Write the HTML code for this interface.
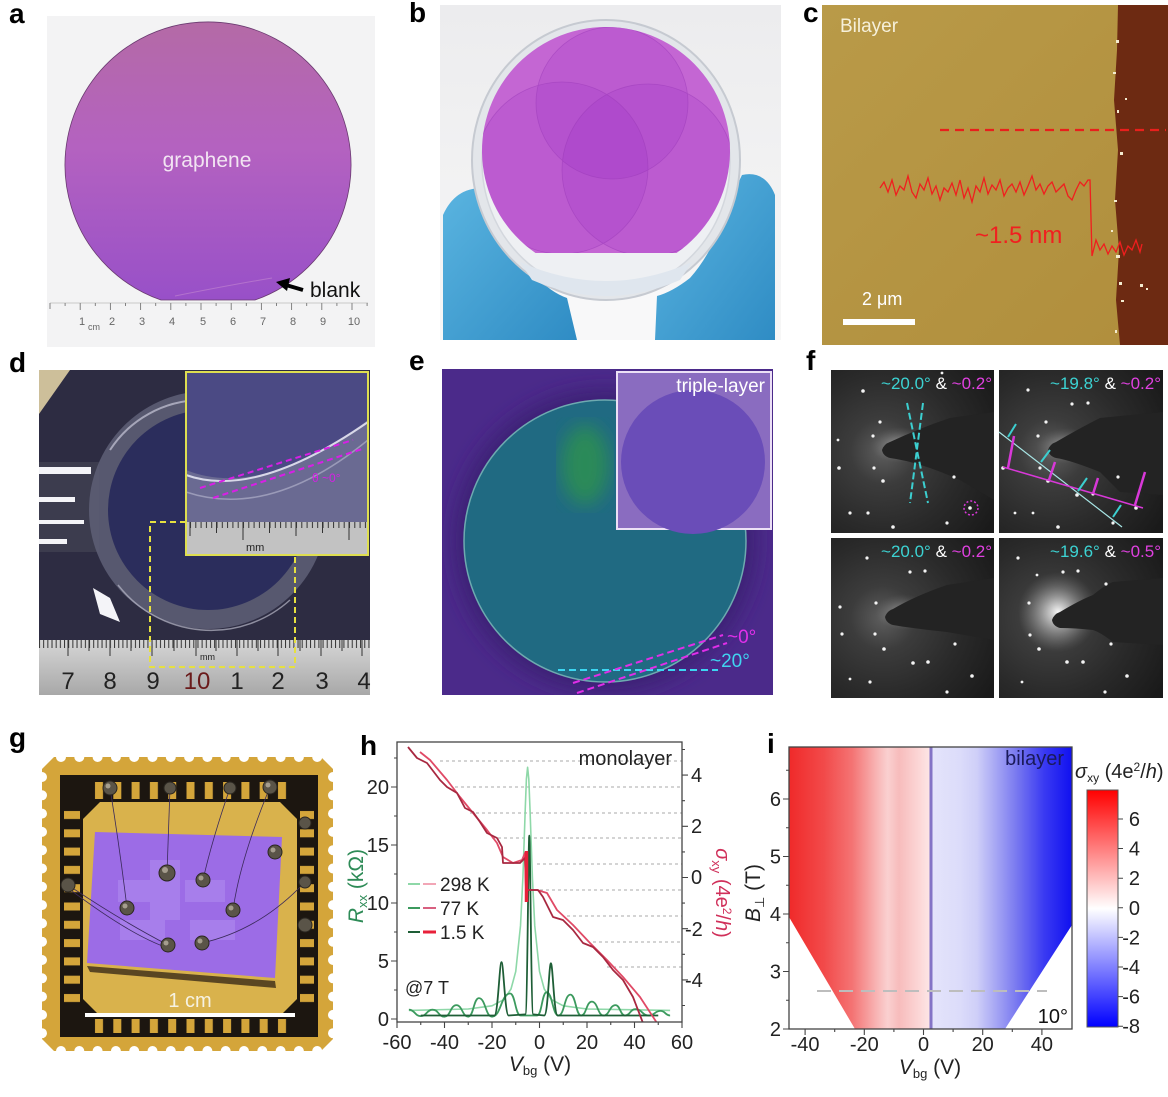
<!DOCTYPE html>
<html><head><meta charset="utf-8">
<style>
html,body{margin:0;padding:0;background:#fff;}
svg{display:block;font-family:"Liberation Sans",Arial,sans-serif;}
</style></head><body>
<svg width="1168" height="1097" viewBox="0 0 1168 1097" xmlns="http://www.w3.org/2000/svg">
<defs>
<linearGradient id="gA" x1="0" y1="0" x2="0" y2="1"><stop offset="0" stop-color="#b46aa6"/><stop offset="0.45" stop-color="#b462c0"/><stop offset="1" stop-color="#9850c8"/></linearGradient>
<linearGradient id="gBbg" x1="0" y1="0" x2="0" y2="1"><stop offset="0" stop-color="#ececee"/><stop offset="1" stop-color="#f7f7f7"/></linearGradient>
<linearGradient id="gGlove" x1="0" y1="0" x2="1" y2="1"><stop offset="0" stop-color="#5ab4e0"/><stop offset="1" stop-color="#2f8cc4"/></linearGradient>
<linearGradient id="gIL" x1="0" y1="0" x2="1" y2="0"><stop offset="0" stop-color="#f02a2a"/><stop offset="0.25" stop-color="#f24a4a"/><stop offset="0.45" stop-color="#f47474"/><stop offset="0.62" stop-color="#f8b4b4"/><stop offset="0.7" stop-color="#fad0d0"/><stop offset="0.78" stop-color="#f7bcbc"/><stop offset="0.9" stop-color="#fbd2d2"/><stop offset="1" stop-color="#fde6e6"/></linearGradient>
<linearGradient id="gIR" x1="0" y1="0" x2="1" y2="0"><stop offset="0" stop-color="#e4e4fb"/><stop offset="0.2" stop-color="#dcdcfa"/><stop offset="0.32" stop-color="#cfcff8"/><stop offset="0.45" stop-color="#a8a8f4"/><stop offset="0.6" stop-color="#7a7af0"/><stop offset="0.8" stop-color="#3a3af2"/><stop offset="1" stop-color="#1010f0"/></linearGradient>
<linearGradient id="gCB" x1="0" y1="0" x2="0" y2="1"><stop offset="0" stop-color="#ff0000"/><stop offset="0.5" stop-color="#ffffff"/><stop offset="1" stop-color="#0000ff"/></linearGradient>
<radialGradient id="gF" cx="0.32" cy="0.5" r="0.8"><stop offset="0" stop-color="#5e5e5e"/><stop offset="0.25" stop-color="#3c3c3c"/><stop offset="0.6" stop-color="#2a2a2a"/><stop offset="1" stop-color="#1a1a1a"/></radialGradient>
<radialGradient id="gGlow"><stop offset="0" stop-color="#ffffff" stop-opacity="0.95"/><stop offset="0.4" stop-color="#dddddd" stop-opacity="0.5"/><stop offset="1" stop-color="#888888" stop-opacity="0"/></radialGradient>
<linearGradient id="gRul" x1="0" y1="0" x2="0" y2="1"><stop offset="0" stop-color="#d6d6d6"/><stop offset="1" stop-color="#a8a8a8"/></linearGradient>
<linearGradient id="gC" x1="0" y1="0" x2="1" y2="1"><stop offset="0" stop-color="#b99a48"/><stop offset="1" stop-color="#b08e3c"/></linearGradient>
<pattern id="pRD" x="39" y="0" width="4.17" height="20" patternUnits="userSpaceOnUse"><rect x="0" y="0" width="1" height="8" fill="#333"/></pattern>
<pattern id="pRI" x="190" y="0" width="5.3" height="20" patternUnits="userSpaceOnUse"><rect x="0" y="0" width="1" height="8" fill="#333"/></pattern>
<pattern id="pSH" x="90" y="0" width="18.3" height="40" patternUnits="userSpaceOnUse"><rect x="5" y="0" width="8" height="40" fill="#d4a53a"/></pattern>
<pattern id="pSV" x="0" y="806" width="40" height="18.3" patternUnits="userSpaceOnUse"><rect x="0" y="5" width="40" height="8" fill="#d4a53a"/></pattern>
<clipPath id="cB"><path d="M535.5,253 A124 124 0 1 1 676.5,253 Z"/></clipPath>
<clipPath id="cH"><rect x="397" y="742" width="285" height="280"/></clipPath>
<clipPath id="cE"><rect x="442" y="369" width="331" height="326"/></clipPath>
<filter id="blur8"><feGaussianBlur stdDeviation="9"/></filter>
<filter id="blur3"><feGaussianBlur stdDeviation="3"/></filter>
</defs>

<!-- ===== Panel labels ===== -->
<g font-weight="bold" font-size="28" fill="#000">
<text x="9" y="23">a</text>
<text x="409" y="22">b</text>
<text x="803" y="22">c</text>
<text x="9" y="372">d</text>
<text x="409" y="370">e</text>
<text x="806" y="370">f</text>
<text x="9" y="747">g</text>
<text x="360" y="755">h</text>
<text x="767" y="753">i</text>
</g>

<!-- ===== Panel a ===== -->
<rect x="47" y="16" width="328" height="331" fill="#f3f3f4"/>
<path d="M161,300 A143 143 0 1 1 255,300 Z" fill="url(#gA)" stroke="#6a3a70" stroke-width="0.8"/>
<path d="M175,296 Q230,285 272,278" stroke="#c488d0" stroke-width="1" fill="none" opacity="0.6"/>
<text x="207" y="167" text-anchor="middle" font-size="21" fill="#f2e4f2">graphene</text>
<text x="310" y="297" font-size="21" fill="#111">blank</text>
<path d="M303,290 L286,285" stroke="#000" stroke-width="4"/>
<path d="M276,282 L290,278 L287,291 Z" fill="#000"/>
<path d="M50,303 H368" stroke="#bbb" stroke-width="0.8"/>
<path d="M50.0,303v6M65.1,303v3M80.2,303v7M95.3,303v3M110.4,303v7M125.5,303v3M140.6,303v7M155.7,303v3M170.8,303v7M185.9,303v3M201,303v7M216.1,303v3M231.2,303v7M246.3,303v3M261.4,303v7M276.5,303v3M291.6,303v7M306.7,303v3M321.8,303v7M336.9,303v3M352,303v7M367.1,303v3" stroke="#777" stroke-width="0.9"/>
<g font-size="11" fill="#666" text-anchor="middle">
<text x="82" y="325">1</text><text x="112" y="325">2</text><text x="142" y="325">3</text><text x="172" y="325">4</text><text x="203" y="325">5</text><text x="233" y="325">6</text><text x="263" y="325">7</text><text x="293" y="325">8</text><text x="323" y="325">9</text><text x="354" y="325">10</text>
<text x="94" y="330" font-size="9">cm</text>
</g>

<!-- ===== Panel b ===== -->
<rect x="440" y="5" width="341" height="335" fill="url(#gBbg)"/>
<rect x="560" y="290" width="110" height="50" fill="#f8f8f9"/>
<path d="M443,340 L443,215 Q455,188 482,188 L500,200 Q515,250 535,275 Q550,292 567,298 L577,340 Z" fill="url(#gGlove)"/>
<path d="M775,340 L775,195 Q765,170 742,175 L730,200 Q715,250 690,278 Q672,292 657,296 L655,340 Z" fill="url(#gGlove)"/>
<ellipse cx="606" cy="160" rx="134" ry="140" fill="#e3e6ea" stroke="#c6cad1" stroke-width="2"/>
<ellipse cx="606" cy="162" rx="124" ry="130" fill="#eef0f3" stroke="#d3d7dd" stroke-width="1.5"/>
<path d="M520,262 Q606,300 692,262 L680,280 Q606,312 532,280 Z" fill="#dfe6ee"/>
<path d="M535.5,253 A124 124 0 1 1 676.5,253 Z" fill="#c466d3"/>
<g clip-path="url(#cB)" fill="#8a18c0" fill-opacity="0.13">
<circle cx="612" cy="103" r="76"/>
<circle cx="562" cy="168" r="86"/>
<circle cx="648" cy="170" r="86"/>
</g>
<g clip-path="url(#cB)" fill="none" stroke="#9a3ab8" stroke-width="0.8" opacity="0.5">
<circle cx="612" cy="103" r="76"/>
<circle cx="562" cy="168" r="86"/>
<circle cx="648" cy="170" r="86"/>
</g>

<!-- ===== Panel c ===== -->
<rect x="822" y="5" width="346" height="340" fill="url(#gC)"/>
<path d="M1118,5 L1168,5 L1168,345 L1120,345 L1116,300 L1119,250 L1115,200 L1118,150 L1114,100 L1117,50 Z" fill="#6d2a12"/>
<g fill="#f4ecd0">
<rect x="1116" y="40" width="3" height="3"/><rect x="1113" y="72" width="3" height="2"/><rect x="1117" y="110" width="2" height="3"/><rect x="1120" y="152" width="3" height="3"/><rect x="1114" y="200" width="3" height="2"/><rect x="1116" y="255" width="4" height="3"/><rect x="1119" y="282" width="3" height="3"/><rect x="1121" y="300" width="3" height="2"/><rect x="1115" y="330" width="2" height="3"/><rect x="1140" y="284" width="3" height="3"/><rect x="1146" y="288" width="2" height="2"/><rect x="1111" y="230" width="2" height="2"/><rect x="1125" y="98" width="2" height="2"/>
</g>
<text x="840" y="32" font-size="19" fill="#f6f0da">Bilayer</text>
<path d="M940,130 H1166" stroke="#e8201c" stroke-width="2.2" stroke-dasharray="9 6"/>
<polyline fill="none" stroke="#f01e1e" stroke-width="1.3" points="880,188 884,182 888,192 892,180 896,195 900,186 904,190 908,176 912,192 916,198 920,184 924,190 928,178 932,194 936,186 940,200 944,188 948,192 952,183 956,195 960,180 964,198 968,188 972,202 976,186 980,192 984,178 988,194 992,185 996,190 1000,180 1004,196 1008,188 1012,184 1016,192 1020,182 1024,195 1028,186 1032,176 1036,190 1040,184 1044,194 1048,186 1052,182 1056,192 1060,188 1064,184 1068,196 1072,200 1076,190 1080,182 1084,186 1088,180 1090,180 1092,256 1096,240 1100,250 1104,244 1108,254 1112,246 1116,252 1120,242 1124,255 1128,246 1132,250 1136,240 1140,252 1142,244"/>
<text x="975" y="243" font-size="24" fill="#f02020">~1.5 nm</text>
<text x="862" y="305" font-size="18" fill="#fff">2 μm</text>
<rect x="843" y="319" width="72" height="6" fill="#fff"/>

<!-- ===== Panel d ===== -->
<rect x="39" y="370" width="331" height="325" fill="#2d2c42"/>
<polygon points="39,370 70,370 39,414" fill="#cdbf9a"/>
<rect x="39" y="462" width="60" height="90" fill="#3c3c4e"/>
<circle cx="208" cy="510" r="109" fill="none" stroke="#5c5d74" stroke-width="20" opacity="0.9"/>
<circle cx="208" cy="510" r="100" fill="#2b2d5c"/>
<path d="M110,450 A110 110 0 0 1 200,400" stroke="#c8c8d8" stroke-width="2" fill="none" opacity="0.7"/>
<path d="M118,585 A118 118 0 0 0 290,600" stroke="#b8b8c8" stroke-width="1.5" fill="none" opacity="0.7"/>
<g fill="#f4f4f8">
<rect x="39" y="467" width="52" height="7"/><rect x="39" y="497" width="36" height="5"/><rect x="39" y="520" width="45" height="4"/><rect x="39" y="539" width="28" height="5"/>
<polygon points="93,588 110,598 120,622 100,614"/>
</g>
<rect x="39" y="640" width="331" height="55" fill="url(#gRul)"/>
<rect x="39" y="640" width="331" height="9" fill="url(#pRD)"/>
<path d="M68,640v16M110,640v16M152,640v16M196,640v16M237,640v16M278,640v16M321,640v16M362,640v16M89,640v11M131,640v11M174,640v11M216,640v11M258,640v11M300,640v11M342,640v11" stroke="#333" stroke-width="1"/>
<g font-size="24" fill="#222" text-anchor="middle">
<text x="68" y="689">7</text><text x="110" y="689">8</text><text x="153" y="689">9</text><text x="197" y="689" fill="#6a1a1a">10</text><text x="237" y="689">1</text><text x="278" y="689">2</text><text x="322" y="689">3</text><text x="364" y="689">4</text>
</g>
<text x="200" y="660" font-size="9" fill="#222">mm</text>
<rect x="150" y="522" width="145" height="145" fill="none" stroke="#e6e040" stroke-width="2" stroke-dasharray="6 4"/>
<rect x="186" y="372" width="182" height="183" fill="#4b4a84"/>
<path d="M186,470 Q260,500 368,420 L368,522 L186,522 Z" fill="#6a6a92"/>
<path d="M186,475 Q255,500 368,422" stroke="#d8d8e8" stroke-width="2" fill="none"/>
<path d="M186,492 Q270,520 368,440" stroke="#9a9ab8" stroke-width="1.5" fill="none"/>
<path d="M200,488 L353,440 M213,498 L365,448" stroke="#d81ee6" stroke-width="2" stroke-dasharray="6 4"/>
<text x="312" y="482" font-size="12" fill="#d81ee6">θ ~0°</text>
<rect x="187" y="522" width="180" height="32" fill="#c2c2c2"/>
<rect x="187" y="522" width="180" height="9" fill="url(#pRI)"/>
<path d="M190,522v14M216.5,522v11M243,522v18M269.5,522v11M296,522v14M322.5,522v11M349,522v18" stroke="#333" stroke-width="1"/>
<text x="246" y="551" font-size="11" fill="#222">mm</text>
<rect x="186" y="372" width="182" height="183" fill="none" stroke="#dede50" stroke-width="2"/>

<!-- ===== Panel e ===== -->
<rect x="442" y="369" width="331" height="326" fill="#4b2a8a"/>
<g clip-path="url(#cE)">
<circle cx="605" cy="541" r="152" fill="#3c2276" filter="url(#blur8)"/>
<circle cx="605" cy="541" r="141" fill="#206a82" stroke="#6eaab0" stroke-width="1.5"/>
<ellipse cx="585" cy="465" rx="24" ry="40" fill="#2a8a58" filter="url(#blur8)"/>
</g>
<rect x="617" y="372" width="154" height="157" fill="#8a6cc0" stroke="#ece0f6" stroke-width="2"/>
<circle cx="693" cy="462" r="72" fill="#6a4db8"/>
<text x="765" y="392" font-size="19" fill="#fff" text-anchor="end">triple-layer</text>
<path d="M558,670 H718" stroke="#3cd6f2" stroke-width="2" stroke-dasharray="7 4"/>
<path d="M573,683 L723,635 M577,693 L727,643" stroke="#e02ee8" stroke-width="2" stroke-dasharray="7 4"/>
<text x="727" y="643" font-size="19" fill="#e030ea">~0°</text>
<text x="710" y="667" font-size="19" fill="#40d4f0">~20°</text>

<!-- ===== Panel f ===== -->
<rect x="831" y="370" width="163" height="163" fill="url(#gF)"/>
<rect x="999" y="370" width="164" height="163" fill="url(#gF)"/>
<rect x="831" y="538" width="163" height="160" fill="url(#gF)"/>
<rect x="999" y="538" width="164" height="160" fill="url(#gF)"/>
<circle cx="1058" cy="612" r="40" fill="url(#gGlow)"/>
<ellipse cx="900" cy="445" rx="30" ry="18" fill="url(#gGlow)" opacity="0.5"/>
<ellipse cx="1066" cy="446" rx="30" ry="18" fill="url(#gGlow)" opacity="0.5"/>
<ellipse cx="903" cy="612" rx="28" ry="18" fill="url(#gGlow)" opacity="0.45"/>
<g fill="#232323">
<path d="M882,450 Q884,444 890,442 Q920,428 950,418 L994,412 L994,500 L960,480 Q920,462 890,458 Q883,456 882,450 Z"/>
<path d="M1048,450 Q1050,444 1056,442 Q1080,428 1100,418 L1163,412 L1163,495 L1120,492 L1100,472 Q1070,460 1056,458 Q1049,456 1048,450 Z"/>
<path d="M885,617 Q887,611 893,609 Q915,596 947,585 L994,578 L994,640 L947,632 Q910,628 893,625 Q886,623 885,617 Z"/>
<path d="M1052,620 Q1054,614 1060,612 Q1080,600 1093,595 Q1105,585 1113,582 L1163,578 L1163,645 L1113,642 Q1100,632 1093,630 Q1075,628 1060,628 Q1053,626 1052,620 Z"/>
</g>
<g fill="#f4f4f4">
<circle cx="863" cy="391" r="1.8"/><circle cx="880" cy="422" r="1.6"/><circle cx="873" cy="436" r="1.6"/><circle cx="839" cy="468" r="1.8"/><circle cx="874" cy="468" r="1.6"/><circle cx="883" cy="481" r="1.8"/><circle cx="954" cy="477" r="1.6"/><circle cx="850" cy="513" r="1.6"/><circle cx="868" cy="513" r="1.6"/><circle cx="893" cy="527" r="1.8"/><circle cx="947" cy="523" r="1.6"/><circle cx="970" cy="508" r="1.8"/><circle cx="838" cy="440" r="1.4"/><circle cx="942" cy="373" r="1.4"/>
<circle cx="1028" cy="390" r="1.6"/><circle cx="1072" cy="404" r="1.6"/><circle cx="1088" cy="403" r="1.6"/><circle cx="1046" cy="422" r="1.6"/><circle cx="1038" cy="436" r="1.6"/><circle cx="1003" cy="468" r="1.8"/><circle cx="1040" cy="468" r="1.6"/><circle cx="1048" cy="481" r="1.8"/><circle cx="1118" cy="477" r="1.6"/><circle cx="1077" cy="495" r="1.8"/><circle cx="1093" cy="494" r="1.6"/><circle cx="1136" cy="508" r="1.8"/><circle cx="1113" cy="523" r="1.6"/><circle cx="1058" cy="527" r="1.8"/><circle cx="1015" cy="513" r="1.4"/><circle cx="1033" cy="513" r="1.4"/>
<circle cx="867" cy="558" r="1.6"/><circle cx="910" cy="572" r="1.6"/><circle cx="925" cy="571" r="1.6"/><circle cx="876" cy="603" r="1.6"/><circle cx="840" cy="607" r="1.6"/><circle cx="842" cy="634" r="1.6"/><circle cx="875" cy="634" r="1.6"/><circle cx="884" cy="649" r="1.8"/><circle cx="955" cy="644" r="1.6"/><circle cx="913" cy="663" r="1.8"/><circle cx="928" cy="662" r="1.8"/><circle cx="972" cy="676" r="1.8"/><circle cx="850" cy="679" r="1.4"/><circle cx="870" cy="682" r="1.6"/><circle cx="947" cy="692" r="1.6"/>
<circle cx="1018" cy="558" r="1.6"/><circle cx="1063" cy="572" r="1.6"/><circle cx="1078" cy="571" r="1.6"/><circle cx="1029" cy="603" r="1.6"/><circle cx="1106" cy="584" r="1.6"/><circle cx="1030" cy="635" r="1.6"/><circle cx="1039" cy="649" r="1.8"/><circle cx="1111" cy="644" r="1.6"/><circle cx="1067" cy="662" r="1.8"/><circle cx="1083" cy="662" r="1.8"/><circle cx="1127" cy="676" r="1.8"/><circle cx="1022" cy="682" r="1.4"/><circle cx="1105" cy="692" r="1.6"/><circle cx="1037" cy="575" r="1.4"/>
</g>
<path d="M907,403 L928,503 M923,403 L910,503" stroke="#3ccfd0" stroke-width="2" stroke-dasharray="7 3"/>
<circle cx="971" cy="508" r="7" fill="none" stroke="#d838d8" stroke-width="1.5" stroke-dasharray="2 2"/>
<path d="M999,432 L1122,527" stroke="#a8e6e6" stroke-width="1.2"/>
<path d="M1003,467 L1143,508" stroke="#d838d8" stroke-width="1.5"/>
<path d="M1008,437 L1016,424 M1041,462 L1050,450 M1078,491 L1087,478 M1113,517 L1121,505" stroke="#3ccfd0" stroke-width="2"/>
<path d="M1008,468 L1014,436 M1049,480 L1055,462 M1093,494 L1098,478 M1135,505 L1145,472" stroke="#d838d8" stroke-width="2.5"/>
<g font-size="17" text-anchor="end">
<text x="992" y="389"><tspan fill="#3cd3d3">~20.0°</tspan><tspan fill="#fff"> &amp; </tspan><tspan fill="#e040e0">~0.2°</tspan></text>
<text x="1161" y="389"><tspan fill="#3cd3d3">~19.8°</tspan><tspan fill="#fff"> &amp; </tspan><tspan fill="#e040e0">~0.2°</tspan></text>
<text x="992" y="557"><tspan fill="#3cd3d3">~20.0°</tspan><tspan fill="#fff"> &amp; </tspan><tspan fill="#e040e0">~0.2°</tspan></text>
<text x="1161" y="557"><tspan fill="#3cd3d3">~19.6°</tspan><tspan fill="#fff"> &amp; </tspan><tspan fill="#e040e0">~0.5°</tspan></text>
</g>

<!-- ===== Panel g ===== -->
<polygon points="54,757 321,757 333,769 333,1039 321,1051 54,1051 42,1039 42,769" fill="#d4a53a"/>
<g stroke="#fff" stroke-width="10" stroke-linecap="round" stroke-dasharray="0 18.3">
<path d="M61,757 H320"/><path d="M61,1051 H320"/><path d="M42,777 V1040"/><path d="M333,777 V1040"/>
</g>
<path d="M60,775 H318 V1037 H60 Z M83,802 V1016 H297 V802 Z" fill="#1c1610" fill-rule="evenodd"/>
<rect x="88" y="782" width="204" height="17" fill="url(#pSH)"/>
<rect x="88" y="1019" width="204" height="14" fill="url(#pSH)"/>
<rect x="64" y="806" width="16" height="206" fill="url(#pSV)"/>
<rect x="300" y="806" width="14" height="206" fill="url(#pSV)"/>
<rect x="83" y="802" width="214" height="214" fill="#d9b24c"/>
<polygon points="83,802 100,802 83,819" fill="#1c1610"/><polygon points="297,802 280,802 297,819" fill="#1c1610"/><polygon points="83,1016 100,1016 83,999" fill="#1c1610"/><polygon points="297,1016 280,1016 297,999" fill="#1c1610"/>
<polygon points="87,966 275,981 276,988 90,972" fill="#3a2a18" opacity="0.8"/>
<polygon points="95,832 282,837 275,978 87,963" fill="#9c6ce6"/>
<g fill="#ad86ee" opacity="0.7">
<rect x="118" y="880" width="40" height="22"/><rect x="185" y="880" width="40" height="22"/><rect x="150" y="860" width="30" height="60"/><rect x="120" y="920" width="45" height="20"/><rect x="190" y="920" width="45" height="20"/>
</g>
<g fill="none" stroke="#3a2a5a" stroke-width="0.8">
<path d="M110,788 Q120,850 127,908"/><path d="M170,788 Q168,840 167,873"/><path d="M230,788 Q212,840 203,880"/><path d="M270,787 Q240,860 233,910"/><path d="M68,885 Q120,920 168,945"/><path d="M305,882 Q260,930 202,943"/><path d="M68,888 Q130,935 168,948"/>
</g>
<g fill="#5a5448" stroke="#2a2620" stroke-width="1">
<circle cx="167" cy="873" r="8"/><circle cx="203" cy="880" r="7"/><circle cx="127" cy="908" r="7"/><circle cx="233" cy="910" r="7"/><circle cx="168" cy="945" r="7"/><circle cx="202" cy="943" r="7"/><circle cx="275" cy="852" r="7"/>
<circle cx="110" cy="788" r="7"/><circle cx="170" cy="788" r="6"/><circle cx="230" cy="788" r="6"/><circle cx="270" cy="787" r="7"/><circle cx="305" cy="823" r="6"/><circle cx="68" cy="885" r="7"/><circle cx="305" cy="882" r="6"/><circle cx="305" cy="925" r="7"/>
</g>
<g fill="#b8b0a0" opacity="0.8">
<circle cx="165" cy="870" r="3"/><circle cx="201" cy="878" r="2.5"/><circle cx="125" cy="906" r="2.5"/><circle cx="231" cy="908" r="2.5"/><circle cx="166" cy="943" r="2.5"/><circle cx="200" cy="941" r="2.5"/><circle cx="273" cy="850" r="2.5"/><circle cx="108" cy="786" r="2.5"/><circle cx="268" cy="785" r="2.5"/>
</g>
<rect x="85" y="1013" width="210" height="4" fill="#fff"/>
<text x="190" y="1007" font-size="20" fill="#f6f2e2" text-anchor="middle">1 cm</text>

<!-- ===== Panel h ===== -->
<g stroke="#a8a8a8" stroke-width="0.9" stroke-dasharray="3 3">
<path d="M440,761H682M455,787H682M470,813H682M492,838H682M537,864H682M540,890H682M567,916H682M593,942H682M607,967H682"/>
</g>
<g clip-path="url(#cH)" fill="none" stroke-linejoin="round">
<polyline stroke="#8ed8a8" stroke-width="1.6" points="408.9,1010.4 468.25,1009 492,1005.8 503.9,999.6 511,989 515.75,971.4 520.5,925.7 522.9,877.5 525.25,809 526.4,779 527.6,767.3 528.8,779 530,809 532.4,877.5 534.75,925.7 539.5,971.4 544.25,989 551.4,999.6 563.25,1005.8 587,1009 670.1,1010.4"/>
<path stroke="#3c9a5e" stroke-width="1.8" d="M408.9,1009.7 C414.8,1009.7 414.8,1016.1 420.75,1016.1 C426.7,1016.1 426.7,1009.7 432.6,1009.7 C438.5,1009.7 438.5,1016.7 444.5,1016.7 C450.4,1016.7 450.4,1005.1 456.4,1005.1 C462.3,1005.1 462.3,1016.7 468.25,1016.7 C473.6,1016.7 473.6,998.1 478.9,998.1 C485.5,998.1 485.5,1016.7 492,1016.7 C501,1016.7 501,993.5 510.05,993.5 C515.3,993.5 515.3,1015.5 520.5,1015.5 L537.1,1015.5 C541.9,1015.5 541.9,992.3 546.6,992.3 C552.5,992.3 552.5,1015.5 558.5,1015.5 C564.4,1015.5 564.4,994.6 570.4,994.6 C575.8,994.6 575.8,1015.5 581.1,1015.5 C586.4,1015.5 586.4,1001.6 591.75,1001.6 C597.7,1001.6 597.7,1015.5 603.6,1015.5 C609.5,1015.5 609.5,1005.1 615.5,1005.1 C620.2,1005.1 620.2,1015.5 625,1015.5 C630.2,1015.5 630.2,1009.1 635.45,1009.1 C642.1,1009.1 642.1,1015.5 648.75,1015.5 C654.7,1015.5 654.7,1010.9 660.6,1010.9 C665.3,1010.9 665.3,1015.5 670.1,1015.5"/>
<path stroke="#1e5e36" stroke-width="1.8" d="M420.75,1015.5 L494.4,1015.5 C498,1015.5 499.5,962.2 501.5,962.2 C503.5,962.2 505,1015.5 508.6,1015.5 L525.25,1014.4 C527.5,1014.4 528.3,835.7 529.3,835.7 C530.3,835.7 531.1,1014.4 533.3,1014.4 L544.25,1015.5 C548,1015.5 549,963.3 550.9,963.3 C552.8,963.3 554,1015.5 557.6,1015.5 L658.25,1015.5"/>
<polyline stroke="#e04a66" stroke-width="1.8" points="420,752 430,760 447,780 460,797 473,813 487,830 497,843 503,857 513,863 522,860 525,853 526,890 537,890 547,893 557,910 573,925 590,943 607,960 623,977 640,997 657,1023"/>
<polyline stroke="#a82840" stroke-width="1.8" points="408,747 417,758 427,763 440,780 447,787 457,793 465,808 473,812 480,822 487,833 497,838 502,847 503,863 520,863 525,858 526,890 538,890 543,897 553,917 563,920 573,930 583,943 593,947 603,957 613,970 623,980 633,997 643,1023"/>
<path d="M526.5,851 V902" stroke="#e8203a" stroke-width="3.5"/>
</g>
<rect x="397" y="742" width="285" height="280" fill="none" stroke="#444" stroke-width="1.3"/>
<g stroke="#444" stroke-width="1.1">
<path d="M397,1019h-6M397,961h-6M397,903h-6M397,845h-6M397,787h-6M397,990h-3M397,932h-3M397,874h-3M397,816h-3M397,758h-3"/>
<path d="M682,775.1h6M682,826.3h6M682,877.5h6M682,928.7h6M682,979.9h6M682,749.5h3M682,800.7h3M682,851.9h3M682,903.1h3M682,954.3h3M682,1005.5h3"/>
<path d="M397,1022v6M444.5,1022v6M492,1022v6M539.5,1022v6M587,1022v6M634.5,1022v6M682,1022v6M420.75,1022v3M468.25,1022v3M515.75,1022v3M563.25,1022v3M610.75,1022v3M658.25,1022v3"/>
</g>
<g font-size="20" fill="#222" text-anchor="end">
<text x="389" y="1026">0</text><text x="389" y="968">5</text><text x="389" y="910">10</text><text x="389" y="852">15</text><text x="389" y="794">20</text>
</g>
<g font-size="20" fill="#222">
<text x="691" y="782">4</text><text x="691" y="833">2</text><text x="691" y="884">0</text><text x="685" y="936">-2</text><text x="685" y="987">-4</text>
</g>
<g font-size="20" fill="#222" text-anchor="middle">
<text x="397" y="1049">-60</text><text x="444.5" y="1049">-40</text><text x="492" y="1049">-20</text><text x="539.5" y="1049">0</text><text x="587" y="1049">20</text><text x="634.5" y="1049">40</text><text x="682" y="1049">60</text>
</g>
<text x="540" y="1071" font-size="21" fill="#222" text-anchor="middle"><tspan font-style="italic">V</tspan><tspan font-size="13" dy="4">bg</tspan><tspan dy="-4"> (V)</tspan></text>
<text transform="translate(363,886) rotate(-90)" text-anchor="middle" font-size="21" fill="#2e8b57"><tspan font-style="italic">R</tspan><tspan font-size="13" dy="4">xx</tspan><tspan dy="-4"> (kΩ)</tspan></text>
<text transform="translate(716,893) rotate(90)" text-anchor="middle" font-size="20" fill="#d0305a"><tspan font-style="italic">σ</tspan><tspan font-size="13" dy="4">xy</tspan><tspan dy="-4"> (4e</tspan><tspan font-size="12" dy="-7">2</tspan><tspan dy="7">/</tspan><tspan font-style="italic">h</tspan>)</text>
<text x="672" y="765" font-size="20" fill="#222" text-anchor="end">monolayer</text>
<g stroke-width="2">
<path d="M408,884h12" stroke="#8ed8a8"/><path d="M423,884h13" stroke="#f2a6b6"/>
<path d="M408,908h12" stroke="#3c9a5e"/><path d="M423,908h13" stroke="#d86080"/>
<path d="M408,932h12" stroke="#1e5e36"/><path d="M423,932h13" stroke="#e8203a" stroke-width="3"/>
</g>
<g font-size="19" fill="#222">
<text x="440" y="891">298 K</text><text x="440" y="915">77 K</text><text x="440" y="939">1.5 K</text>
</g>
<text x="405" y="994" font-size="18" fill="#222">@7 T</text>

<!-- ===== Panel i ===== -->
<rect x="789" y="747" width="141" height="282" fill="url(#gIL)"/>
<rect x="932" y="747" width="140" height="282" fill="url(#gIR)"/>
<rect x="929.5" y="747" width="3" height="282" fill="#8474c6"/>
<polygon points="789,917 855,1029 789,1029" fill="#fff"/>
<polygon points="1072,925 1005,1029 1072,1029" fill="#fff"/>
<path d="M817,991 H1047" stroke="#bdbdbd" stroke-width="2" stroke-dasharray="14 8"/>
<rect x="789" y="747" width="283" height="282" fill="none" stroke="#444" stroke-width="1.3"/>
<g stroke="#444" stroke-width="1.1">
<path d="M789,1029h-6M789,971.5h-6M789,914h-6M789,856.5h-6M789,799h-6M789,1000.25h-3M789,942.75h-3M789,885.25h-3M789,827.75h-3M789,770.25h-3"/>
<path d="M805.1,1029v6M864.3,1029v6M923.5,1029v6M982.7,1029v6M1041.9,1029v6M834.7,1029v3M893.9,1029v3M953.1,1029v3M1012.3,1029v3"/>
</g>
<g font-size="20" fill="#222" text-anchor="end">
<text x="781" y="1036">2</text><text x="781" y="978.5">3</text><text x="781" y="921">4</text><text x="781" y="863.5">5</text><text x="781" y="806">6</text>
</g>
<g font-size="20" fill="#222" text-anchor="middle">
<text x="805.1" y="1051">-40</text><text x="864.3" y="1051">-20</text><text x="923.5" y="1051">0</text><text x="982.7" y="1051">20</text><text x="1041.9" y="1051">40</text>
</g>
<text x="930" y="1074" font-size="21" fill="#222" text-anchor="middle"><tspan font-style="italic">V</tspan><tspan font-size="13" dy="4">bg</tspan><tspan dy="-4"> (V)</tspan></text>
<text transform="translate(760,893) rotate(-90)" text-anchor="middle" font-size="21" fill="#222"><tspan font-style="italic">B</tspan><tspan font-size="13" dy="4">⊥</tspan><tspan dy="-4"> (T)</tspan></text>
<text x="1064" y="765" font-size="20" fill="#1a1a5a" text-anchor="end">bilayer</text>
<text x="1068" y="1023" font-size="20" fill="#111" text-anchor="end">10°</text>
<text x="1075" y="778" font-size="20" fill="#222"><tspan font-style="italic">σ</tspan><tspan font-size="12" dy="4">xy</tspan><tspan dy="-4"> (4e</tspan><tspan font-size="12" dy="-7">2</tspan><tspan dy="7">/</tspan><tspan font-style="italic">h</tspan>)</text>
<rect x="1087" y="790" width="31" height="237" fill="url(#gCB)" stroke="#555" stroke-width="1"/>
<g stroke="#444" stroke-width="1">
<path d="M1118,819h5M1118,848.5h5M1118,878.2h5M1118,907.8h5M1118,937.4h5M1118,967h5M1118,996.6h5M1118,1026.2h5"/>
</g>
<g font-size="20" fill="#222" text-anchor="end">
<text x="1140" y="826">6</text><text x="1140" y="855.5">4</text><text x="1140" y="885.2">2</text><text x="1140" y="914.8">0</text><text x="1140" y="944.4">-2</text><text x="1140" y="974">-4</text><text x="1140" y="1003.6">-6</text><text x="1140" y="1033.2">-8</text>
</g>
</svg>
</body></html>
